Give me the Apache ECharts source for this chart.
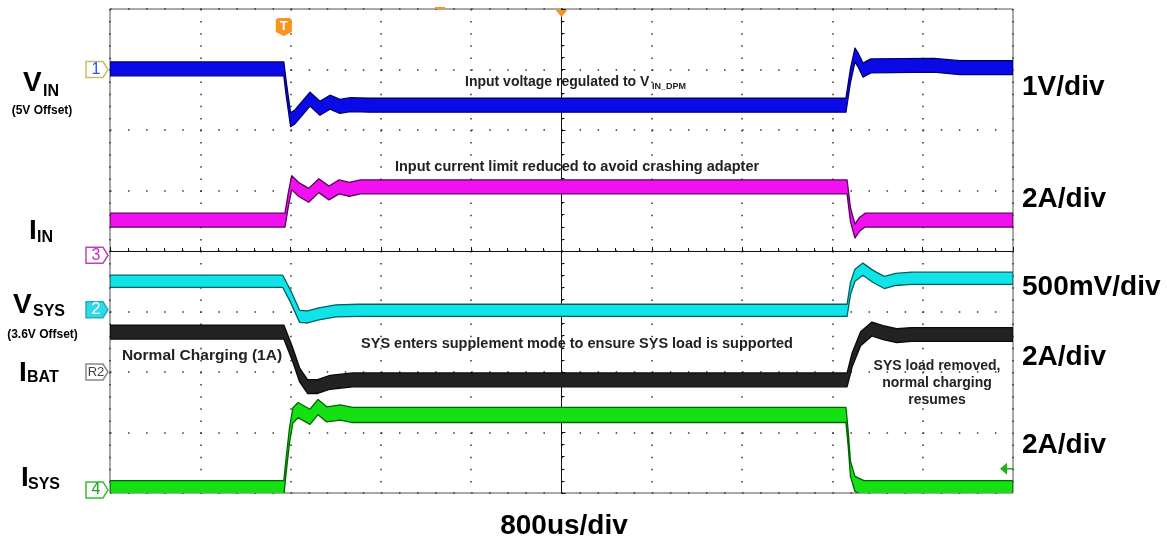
<!DOCTYPE html>
<html>
<head>
<meta charset="utf-8">
<script src="https://cdn.jsdelivr.net/npm/echarts@6/dist/echarts.min.js"></script>
<style>
  html, body { margin: 0; padding: 0; background: #fff; }
  #chart { width: 1167px; height: 538px; }
</style>
</head>
<body>
<div id="chart"></div>
<script>
// time in us (800us/div, trigger at centre), level in screen divisions from centre line
const vin = [
  [-4000, 3.01], [-2460, 3.01], [-2440, 2.7], [-2400, 2.17], [-2360, 2.22], [-2228, 2.51],
  [-2140, 2.36], [-2051, 2.46], [-1963, 2.39], [-1870, 2.42], [-1700, 2.41], [2520, 2.41],
  [2560, 2.9], [2600, 3.24], [2630, 3.15], [2671, 2.99], [2740, 3.06], [3300, 3.07],
  [3530, 3.03], [4000, 3.03]
];
const iin = [
  [-4000, 0.51], [-2450, 0.51], [-2420, 0.85], [-2390, 1.13], [-2330, 1.02], [-2240, 0.92],
  [-2150, 1.08], [-2060, 0.96], [-1970, 1.06], [-1880, 1.02], [-1780, 1.06], [2530, 1.06],
  [2560, 0.6], [2600, 0.33], [2640, 0.44], [2690, 0.51], [4000, 0.51]
];
const vsys = [
  [-4000, -0.5], [-2470, -0.5], [-2400, -0.75], [-2320, -1.08], [-2250, -1.09], [-2150, -1.04],
  [-2000, -0.99], [-1800, -0.98], [2530, -0.98], [2560, -0.62], [2600, -0.4], [2670, -0.3],
  [2760, -0.42], [2860, -0.52], [2960, -0.47], [3100, -0.45], [4000, -0.45]
];
const ibat = [
  [-4000, -1.34], [-2460, -1.34], [-2380, -1.72], [-2320, -2.05], [-2250, -2.24], [-2160, -2.24],
  [-2050, -2.17], [-1850, -2.13], [2530, -2.13], [2575, -1.8], [2650, -1.45], [2750, -1.29],
  [2850, -1.35], [2970, -1.4], [3100, -1.38], [4000, -1.38]
];
const isys = [
  [-4000, -3.92], [-2460, -3.92], [-2440, -3.55], [-2410, -3.05], [-2380, -2.72], [-2334, -2.63],
  [-2228, -2.74], [-2157, -2.58], [-2080, -2.7], [-1960, -2.67], [-1850, -2.71], [2520, -2.71],
  [2540, -3.1], [2560, -3.6], [2600, -3.85], [2680, -3.92], [4000, -3.92]
];
// channel ground markers (divisions)
const chMarks = [
  { label: '1', level: 3.0, fill: '#fff', stroke: '#c8c060', color: '#3050ff' },
  { label: '3', level: -0.07, fill: '#fff', stroke: '#c040c0', color: '#c030c0' },
  { label: '2', level: -0.97, fill: '#30d8e8', stroke: '#20b0c0', color: '#fff' },
  { label: 'R2', level: -2.0, fill: '#fff', stroke: '#888', color: '#444' },
  { label: '4', level: -3.95, fill: '#fff', stroke: '#30c030', color: '#20a020' }
];

const FONT = '"Liberation Sans", Arial, sans-serif';

// each trace is a noise band of height h (divisions) around the points
const band = (data, h, edge, fill) => ({
  type: 'custom', coordinateSystem: 'cartesian2d', clip: true, silent: true, animation: false,
  encode: { x: 0, y: 1 },
  data,
  renderItem: (params, api) => {
    if (params.dataIndex !== 0) return null;
    const up = data.map(([t, v]) => api.coord([t, v + h / 2]));
    const lo = data.map(([t, v]) => api.coord([t, v - h / 2])).reverse();
    return {
      type: 'polygon',
      shape: { points: up.concat(lo) },
      style: { fill, stroke: edge, lineWidth: 1.3, lineJoin: 'round' }
    };
  }
});

const chart = echarts.init(document.getElementById('chart'));
chart.setOption({
  backgroundColor: '#fff',
  animation: false,
  grid: { left: 110, top: 9, width: 903, height: 484, show: true, borderColor: '#555', borderWidth: 1 },
  xAxis: {
    type: 'value', min: -4000, max: 4000, interval: 800,
    axisLine: { onZero: true, lineStyle: { color: '#111', width: 1 } },
    axisTick: { show: true, inside: true, length: 4, lineStyle: { color: '#111' } },
    minorTick: { show: true, splitNumber: 5, length: 3, lineStyle: { color: '#111' } },
    axisLabel: { show: false },
    splitLine: { show: true, lineStyle: { color: '#333', width: 1.5, type: [1.5, 10.6] } }
  },
  yAxis: {
    type: 'value', min: -4, max: 4, interval: 1,
    axisLine: { onZero: true, lineStyle: { color: '#111', width: 1 } },
    axisTick: { show: true, inside: true, length: 4, lineStyle: { color: '#111' } },
    minorTick: { show: true, splitNumber: 5, length: 3, lineStyle: { color: '#111' } },
    axisLabel: { show: false },
    splitLine: { show: true, lineStyle: { color: '#333', width: 1.5, type: [1.5, 16.56] } }
  },
  series: [
    band(vin, 0.23, '#000070', '#0a0ae6'),
    band(iin, 0.23, '#5a0060', '#f010f0'),
    band(vsys, 0.2, '#006060', '#10e4e8'),
    band(isys, 0.25, '#006400', '#14e014'),
    band(ibat, 0.23, '#0a0a0a', '#222')
  ]
});

const txt = (x, y, text, size, opts = {}) => ({
  type: 'text', x, y, silent: true, z: 100,
  style: {
    text, fill: opts.color || '#000',
    font: (opts.weight || 'bold') + ' ' + size + 'px ' + FONT,
    textAlign: opts.align || 'left', textVerticalAlign: 'middle',
    align: opts.align || 'left', verticalAlign: 'middle'
  }
});

const g = [];
// left channel names
g.push(txt(23, 83, 'V', 28), txt(43, 91.5, 'IN', 16), txt(42, 111, '(5V Offset)', 12, { align: 'center' }));
g.push(txt(29, 231, 'I', 28), txt(37, 237.5, 'IN', 16));
g.push(txt(13, 305, 'V', 28), txt(33, 311.5, 'SYS', 16), txt(42.5, 335, '(3.6V Offset)', 12, { align: 'center' }));
g.push(txt(19, 373, 'I', 28), txt(27, 377.5, 'BAT', 16));
g.push(txt(21, 478, 'I', 28), txt(28, 484.5, 'SYS', 16));
// right scale labels
[['1V/div', 87.5], ['2A/div', 199], ['500mV/div', 287.5], ['2A/div', 357], ['2A/div', 445]]
  .forEach(([s, y]) => g.push(txt(1022, y, s, 28)));
g.push(txt(564, 526, '800us/div', 28, { align: 'center' }));
// annotations
const ann = { color: '#222' };
g.push(txt(465, 82.5, 'Input voltage regulated to V', 14, ann), txt(652, 87, 'IN_DPM', 9, ann));
g.push(txt(577, 166.5, 'Input current limit reduced to avoid crashing adapter', 14.5, { ...ann, align: 'center' }));
g.push(txt(577, 343.5, 'SYS enters supplement mode to ensure SYS load is supported', 14.5, { ...ann, align: 'center' }));
g.push(txt(202, 356, 'Normal Charging (1A)', 15.5, { ...ann, align: 'center' }));
g.push(txt(937, 366, 'SYS load removed,', 14, { ...ann, align: 'center' }));
g.push(txt(937, 383, 'normal charging', 14, { ...ann, align: 'center' }));
g.push(txt(937, 400, 'resumes', 14, { ...ann, align: 'center' }));

// channel markers on the left edge
chMarks.forEach(m => {
  const y = chart.convertToPixel({ gridIndex: 0 }, [-4000, m.level])[1];
  g.push({
    type: 'polygon', silent: true, z: 90,
    shape: { points: [[86, y - 8], [103, y - 8], [108, y], [103, y + 8], [86, y + 8]] },
    style: { fill: m.fill, stroke: m.stroke, lineWidth: 1.5 }
  });
  g.push(txt(96, y, m.label, m.label === 'R2' ? 13 : 16,
    { color: m.color, weight: 'normal', align: 'center' }));
});

// trigger markers
const tx = chart.convertToPixel({ gridIndex: 0 }, [-2460, 0])[0];
g.push({
  type: 'polygon', silent: true, z: 90,
  shape: { points: [[tx - 8, 20], [tx - 6, 18], [tx + 6, 18], [tx + 8, 20], [tx + 8, 32], [tx, 36], [tx - 8, 32]] },
  style: { fill: '#f7941d' }
});
g.push(txt(tx, 26, 'T', 13, { color: '#fff', align: 'center' }));
const cx = chart.convertToPixel({ gridIndex: 0 }, [0, 0])[0];
g.push({
  type: 'polygon', silent: true, z: 90,
  shape: { points: [[cx - 6, 10], [cx + 6, 10], [cx, 17]] },
  style: { fill: '#f7941d' }
});
g.push({ type: 'rect', silent: true, z: 90, shape: { x: 435, y: 7, width: 10, height: 2 }, style: { fill: '#f7941d' } });

// ch4 trigger level arrow on the right edge
const ay = chart.convertToPixel({ gridIndex: 0 }, [4000, -3.6])[1];
g.push({
  type: 'polygon', silent: true, z: 90,
  shape: { points: [[1000, ay], [1007, ay - 6], [1007, ay + 6]] },
  style: { fill: '#20b020' }
});
g.push({ type: 'line', silent: true, z: 90, shape: { x1: 1006, y1: ay, x2: 1013, y2: ay }, style: { stroke: '#20b020', lineWidth: 1.5 } });

chart.setOption({ graphic: g });
</script>
</body>
</html>
